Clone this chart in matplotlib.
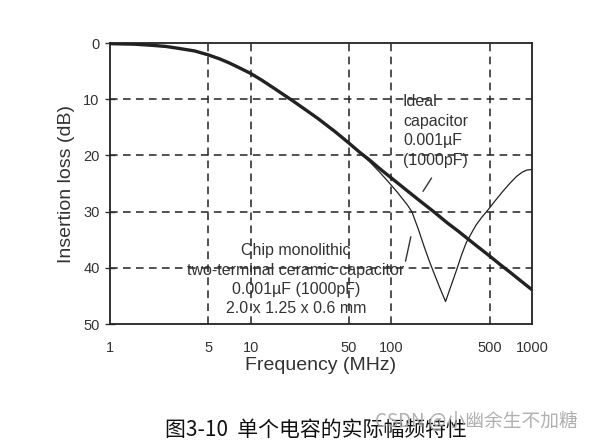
import matplotlib.pyplot as plt

# 数据: 频率 (MHz) 与插入损耗 (dB)
freq_ideal = [1, 1.5, 2, 2.5, 3, 4, 5, 6, 7, 8, 10, 12, 15, 20, 25, 30, 40, 50, 60, 70, 85,
              100, 130, 160, 200, 250, 300, 400, 500, 600, 700, 850, 1000]
loss_ideal = [0.1, 0.2, 0.4, 0.6, 0.9, 1.4, 2.1, 2.8, 3.5, 4.2, 5.4, 6.6, 8.2, 10.3, 12.0, 13.4, 15.8, 17.8, 19.5, 20.8, 22.6,
              24.0, 26.3, 28.1, 30.0, 32.0, 33.5, 36.0, 37.9, 39.5, 40.8, 42.5, 43.9]

freq_chip = [1, 1.5, 2, 2.5, 3, 4, 5, 6, 7, 8, 10, 12, 15, 20, 25, 30, 40, 50, 55, 60, 70, 80, 90,
             100, 110, 120, 130, 140, 155, 170, 185, 200, 220, 243, 265, 290, 315, 340, 370, 400,
             440, 490, 550, 620, 700, 780, 850, 920, 1000]
loss_chip = [0.1, 0.2, 0.4, 0.6, 0.9, 1.4, 2.1, 2.8, 3.5, 4.2, 5.4, 6.6, 8.2, 10.3, 12.0, 13.4, 15.8, 17.8, 18.7, 19.6, 21.1, 22.6, 24.0,
             25.3, 26.5, 27.7, 28.8, 30.0, 33.0, 36.0, 38.6, 40.8, 43.4, 46.0, 43.3, 40.5, 37.8, 35.6, 33.9, 32.4,
             31.0, 29.6, 28.0, 26.4, 24.9, 23.7, 23.0, 22.6, 22.5]

xticks = [1, 5, 10, 50, 100, 500, 1000]
yticks = [0, 10, 20, 30, 40, 50]

plt.rcParams['font.family'] = ['Liberation Sans', 'DejaVu Sans']

fig = plt.figure(figsize=(6, 4.41), dpi=100)
ax = fig.add_axes([0.1833, 0.2653, 0.7033, 0.637])

ax.plot(freq_chip, loss_chip, color='#222222', lw=0.9, zorder=3)
ax.plot(freq_ideal, loss_ideal, color='#222222', lw=2.4, zorder=4, solid_capstyle='butt')

ax.set_xscale('log')
ax.set_xlim(1, 1000)
ax.set_ylim(50, 0)
ax.set_xticks(xticks)
ax.set_xticklabels([str(v) for v in xticks])
ax.minorticks_off()
ax.set_yticks(yticks)

for v in xticks[1:-1]:
    ax.axvline(v, color='#222222', lw=1.1, ls=(0, (5, 3.5)), zorder=1)
for v in yticks[1:-1]:
    ax.axhline(v, color='#222222', lw=1.1, ls=(0, (5, 3.5)), zorder=1)

ax.tick_params(axis='x', length=0, pad=12, labelsize=10.5, colors='#333333')
ax.tick_params(axis='y', direction='inout', length=7, width=1, pad=4, labelsize=10.5, colors='#333333')
for s in ax.spines.values():
    s.set_linewidth(1.3)
    s.set_color('#222222')

ax.set_xlabel('Frequency (MHz)', fontsize=14, color='#333333', labelpad=2)
ax.set_ylabel('Insertion loss (dB)', fontsize=14, color='#333333', labelpad=6)

ax.text(121, 9.1, 'Ideal\ncapacitor\n0.001µF\n(1000pF)', fontsize=11.5, color='#333333',
        va='top', ha='left', linespacing=1.37, zorder=5)
ax.annotate('', xy=(164, 26.8), xytext=(198, 23.6),
            arrowprops=dict(arrowstyle='-', color='#333333', lw=1))

ax.text(21, 35.6, 'Chip monolithic\ntwo-terminal ceramic capacitor\n0.001µF (1000pF)\n2.0 x 1.25 x 0.6 mm',
        fontsize=11.5, color='#333333', va='top', ha='center', linespacing=1.37, zorder=5)
ax.annotate('', xy=(139, 34.0), xytext=(125, 39.3),
            arrowprops=dict(arrowstyle='-', color='#333333', lw=1))

fig.text(0.275, 0.025, '图3-10  单个电容的实际幅频特性', fontsize=15, color='#111111',
         ha='left', va='center', family=['Noto Sans CJK SC', 'DejaVu Sans'])
fig.text(0.625, 0.044, 'CSDN @小幽余生不加糖', fontsize=13.5, color='#a8a8a8', alpha=0.9,
         ha='left', va='center', family=['Noto Sans CJK SC', 'DejaVu Sans'])

fig.savefig('out.png', dpi=100)
